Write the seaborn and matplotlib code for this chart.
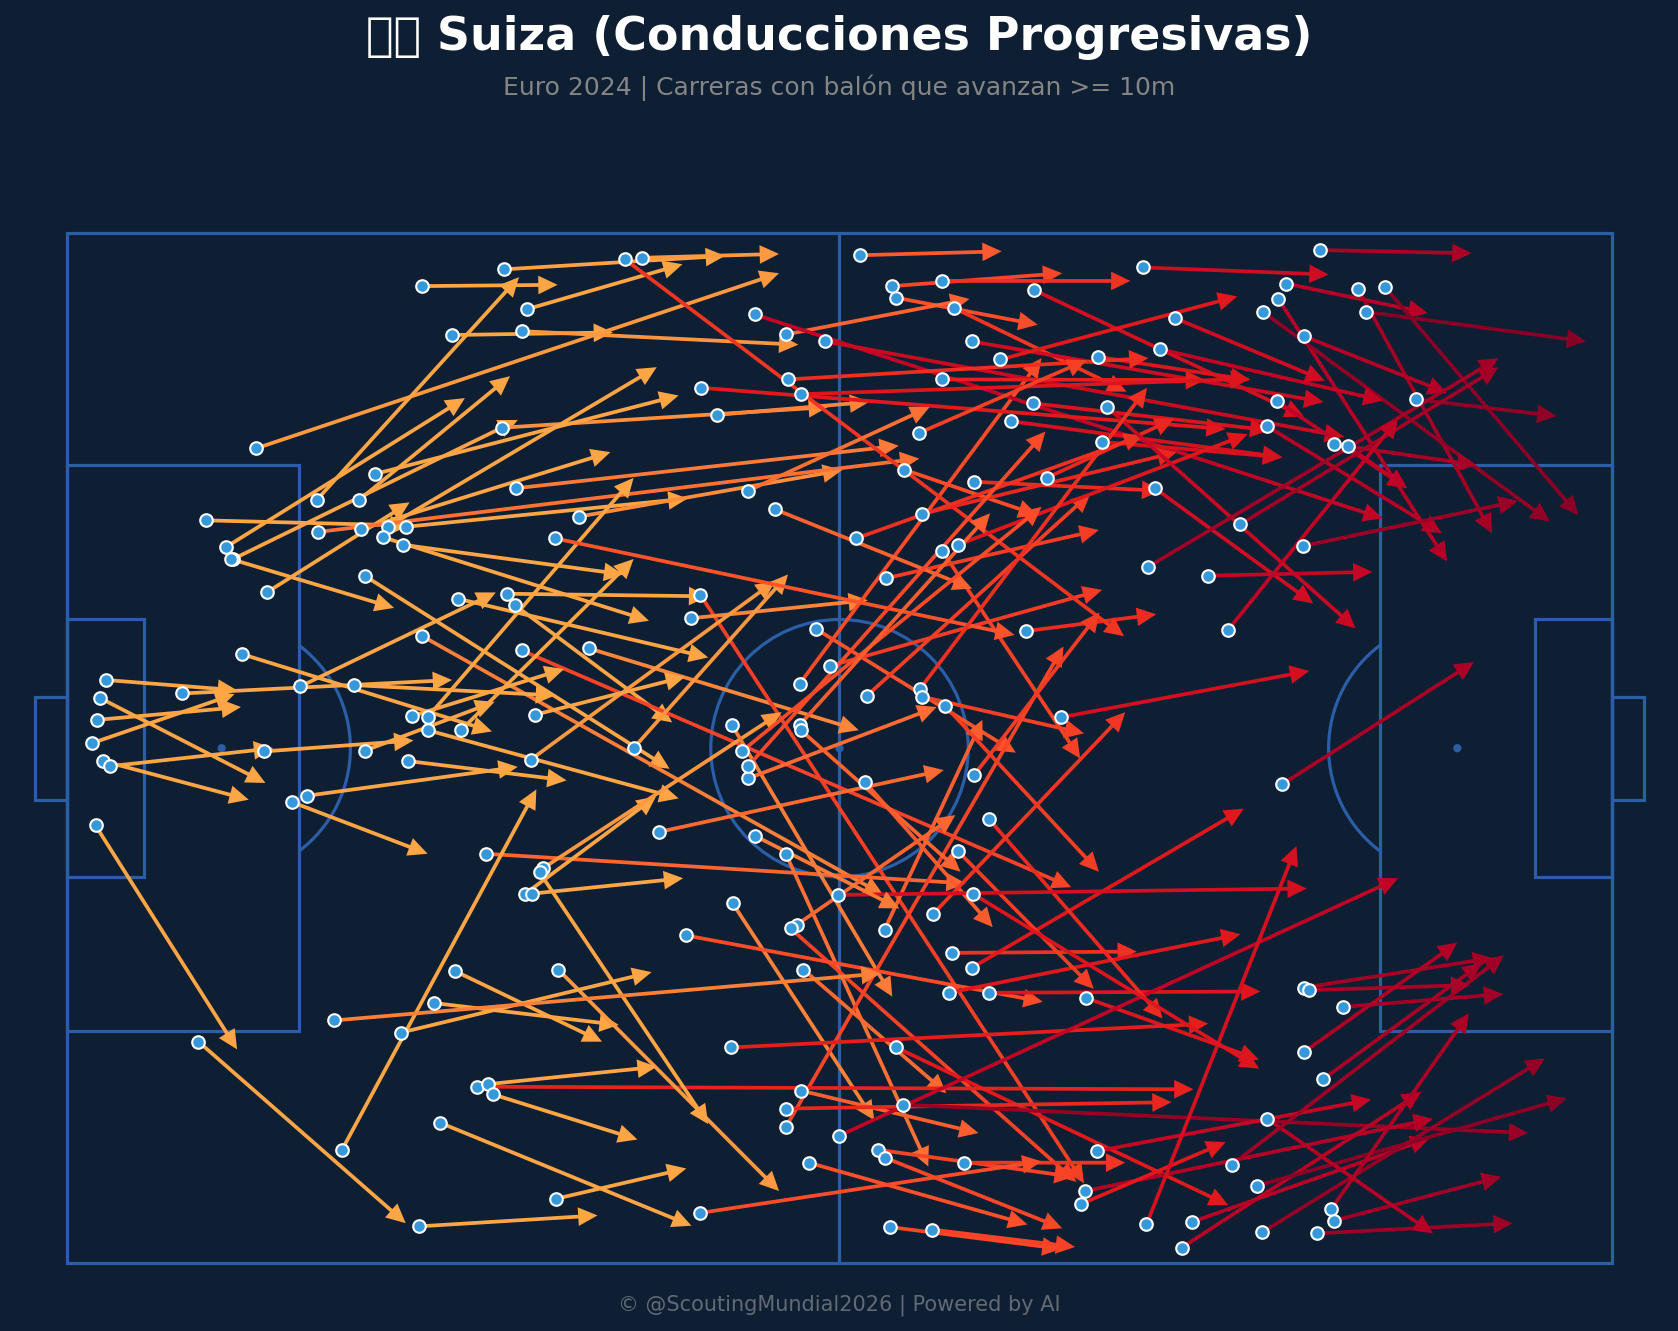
import matplotlib
matplotlib.use("Agg")
import matplotlib.pyplot as plt
from matplotlib.patches import Rectangle, Circle, Arc
import numpy as np
import pandas as pd
import seaborn as sns
import warnings, logging

warnings.filterwarnings("ignore")
logging.getLogger("matplotlib.font_manager").setLevel(logging.ERROR)

TITLE = "\U0001F1E8\U0001F1ED Suiza (Conducciones Progresivas)"
SUBTITLE = "Euro 2024 | Carreras con balón que avanzan >= 10m"
FOOTER = "© @ScoutingMundial2026 | Powered by AI"

# Progressive carries on a 120 x 80 pitch: where each one starts and ends
start_x = [
    27.6, 33.9, 44.65, 35.7, 29.9, 35.3, 14.7, 19.4, 12.3, 22.7,
    12.9, 33.8, 50.5, 15.5, 24.9, 23.9, 22.8, 26.3, 39.8, 10.8,
    19.5, 34.9, 24.5, 26.1, 12.7, 23.1, 30.4, 34.2, 18.1, 27.6,
    34.8, 28.0, 35.3, 40.55, 49.2, 48.5, 44.0, 36.0, 28.0, 30.6,
    3.0, 8.9, 22.3, 2.3, 1.95, 2.55, 2.8, 3.3, 15.3, 2.2,
    13.6, 18.6, 17.5, 23.1, 26.8, 26.5, 36.35, 32.5, 35.6, 37.0,
    36.1, 46.0, 58.2, 59.3, 56.9, 62.1, 77.2, 74.5, 51.65, 52.9,
    55.85, 51.7, 55.85, 63.5, 56.7, 56.2, 57.2, 48.1, 68.75, 70.3,
    68.5, 71.6, 79.15, 64.4, 51.6, 57.0, 31.85, 55.85, 64.9, 60.0,
    63.0, 63.5, 69.7, 57.6, 49.2, 63.9, 67.2, 79.1, 78.8, 80.0,
    83.85, 87.4, 86.6, 92.4, 92.85, 98.2, 98.45, 97.1, 93.25, 97.6,
    90.5, 96.1, 96.45, 99.15, 96.1, 30.1, 28.5, 38.15, 25.9, 10.2,
    21.35, 28.97, 27.3, 38.0, 32.7, 33.1, 36.7, 20.75, 61.6, 64.1,
    68.0, 64.4, 68.9, 75.1, 55.85, 53.4, 58.9, 70.3, 72.5, 80.1,
    56.0, 68.0, 49.25, 57.0, 75.0, 73.3, 66.2, 43.3, 80.4, 65.0,
    70.45, 76.1, 66.4, 61.3, 69.2, 68.0, 63.6, 55.0, 52.9, 37.9,
    97.3, 83.6, 94.7, 100.3, 102.4, 94.1, 92.9, 100.9, 86.1, 96.1,
    84.9, 94.0, 104.8, 93.25, 80.8, 98.45, 99.5, 84.5, 91.15, 96.0,
    84.0, 88.6, 90.2, 94.4, 66.25, 66.4, 68.2, 52.4, 52.9, 56.9,
    57.0, 62.0, 70.45, 71.6, 69.2, 70.35, 67.3, 59.9, 53.4,
]
start_y = [
    4.1, 2.8, 1.9, 5.9, 7.9, 7.6, 16.7, 20.7, 24.4, 20.7,
    25.3, 15.1, 14.1, 27.9, 22.8, 18.7, 23.0, 22.8, 22.0, 22.3,
    23.2, 19.8, 23.6, 24.2, 25.3, 26.6, 28.4, 28.0, 35.2, 31.3,
    28.9, 38.6, 32.4, 32.25, 28.1, 29.9, 40.0, 40.9, 37.6, 38.6,
    34.7, 35.75, 35.1, 37.8, 39.6, 36.1, 41.0, 41.4, 40.25, 46.0,
    32.7, 43.7, 44.2, 40.2, 37.5, 41.0, 37.4, 48.2, 51.3, 49.3,
    51.3, 46.5, 30.75, 33.6, 35.0, 35.95, 37.6, 30.9, 38.2, 42.35,
    48.25, 52.05, 69.4, 54.1, 53.7, 54.0, 57.2, 54.55, 55.9, 57.05,
    59.0, 59.0, 59.4, 63.25, 63.25, 66.6, 66.3, 68.0, 67.7, 70.1,
    71.2, 71.8, 72.2, 72.2, 76.1, 77.2, 77.4, 74.4, 75.4, 71.3,
    77.0, 76.8, 78.8, 74.0, 77.6, 75.8, 76.7, 77.7, 68.8, 65.7,
    72.35, 58.6, 58.8, 60.1, 63.6, 57.3, 59.8, 57.2, 62.1, 62.8,
    71.2, 69.1, 77.15, 75.0, 66.1, 66.9, 49.65, 61.15, 1.7, 4.1,
    3.7, 5.0, 5.8, 4.4, 7.85, 6.3, 8.4, 8.4, 9.8, 9.6,
    11.35, 11.35, 12.0, 12.5, 13.2, 14.6, 15.5, 2.0, 16.2, 18.35,
    19.3, 19.0, 21.8, 23.7, 24.2, 24.7, 26.8, 21.45, 20.0, 23.7,
    1.3, 2.65, 3.9, 4.35, 4.2, 5.1, 6.1, 6.1, 6.6, 8.0,
    9.0, 13.05, 12.9, 15.0, 13.5, 16.4, 16.55, 19.8, 22.6, 24.3,
    25.9, 26.6, 30.8, 42.8, 35.4, 36.0, 36.7, 40.25, 41.4, 38.2,
    38.6, 42.65, 42.1, 45.5, 48.0, 51.3, 52.85, 51.4, 46.8,
]
end_x = [
    38.1, 51.1, 55.3, 47.8, 42.4, 56.8, 55.3, 35.1, 30.9, 34.4,
    35.0, 59.1, 62.3, 26.6, 45.8, 47.5, 42.2, 48.2, 60.2, 26.6,
    66.2, 64.6, 45.2, 43.2, 25.4, 46.8, 49.8, 49.8, 33.3, 63.4,
    47.0, 47.5, 78.0, 61.5, 79.0, 62.2, 56.0, 55.0, 44.0, 44.0,
    13.2, 29.9, 37.9, 13.5, 13.0, 15.4, 14.1, 16.0, 26.9, 13.2,
    33.0, 35.0, 28.0, 33.2, 38.6, 38.8, 48.0, 69.8, 45.75, 55.5,
    47.85, 68.1, 73.7, 80.4, 75.7, 79.5, 96.5, 84.6, 64.1, 67.55,
    66.9, 62.7, 77.4, 71.1, 69.0, 78.4, 68.3, 75.8, 83.1, 91.4,
    91.15, 92.7, 92.6, 90.2, 88.65, 70.8, 87.5, 85.8, 113.5, 103.4,
    78.2, 77.3, 82.2, 74.6, 75.7, 77.25, 78.3, 106.1, 90.0, 101.3,
    95.5, 105.85, 105.2, 116.5, 114.8, 108.9, 111.4, 112.3, 106.1, 109.9,
    111.6, 110.7, 109.0, 111.55, 108.0, 41.55, 42.85, 55.3, 45.4, 26.3,
    36.45, 48.5, 41.2, 48.1, 45.8, 44.3, 49.8, 63.2, 72.6, 77.3,
    82.6, 75.4, 82.3, 96.1, 70.1, 102.2, 99.2, 97.6, 90.9, 91.9,
    84.0, 88.4, 90.0, 91.9, 93.4, 94.4, 79.2, 82.1, 94.4, 75.4,
    85.0, 86.0, 86.2, 83.6, 91.7, 78.7, 80.15, 70.3, 67.0, 73.6,
    109.1, 98.0, 105.7, 110.7, 117.4, 107.2, 115.2, 118.0, 97.7, 107.2,
    102.2, 104.1, 115.7, 106.8, 100.1, 109.5, 104.1, 96.8, 111.2, 112.7,
    111.2, 101.4, 103.4, 109.3, 83.9, 79.0, 80.15, 75.7, 76.0, 71.7,
    69.4, 71.9, 80.2, 85.1, 79.75, 92.6, 82.2, 96.3, 64.65,
]
end_y = [
    4.0, 1.75, 1.6, 2.4, 7.7, 8.65, 3.1, 3.4, 12.8, 11.1,
    14.5, 13.5, 13.1, 20.9, 10.4, 12.6, 17.0, 20.6, 18.4, 22.7,
    17.5, 16.5, 30.1, 26.5, 29.1, 41.6, 32.95, 28.2, 27.9, 51.4,
    38.0, 43.9, 50.8, 38.6, 73.8, 28.5, 26.5, 27.0, 19.0, 25.3,
    35.5, 34.7, 35.9, 36.8, 35.8, 42.7, 44.0, 40.0, 39.4, 63.4,
    38.7, 41.45, 48.2, 36.4, 33.85, 42.5, 34.45, 50.5, 43.75, 37.2,
    50.1, 41.7, 40.35, 27.7, 9.7, 20.2, 34.0, 29.6, 59.3, 36.8,
    72.5, 68.9, 32.1, 37.8, 45.2, 73.7, 66.8, 59.7, 55.8, 44.7,
    54.45, 58.9, 64.2, 75.5, 61.4, 69.9, 66.5, 67.5, 69.9, 50.1,
    73.3, 77.3, 72.2, 77.0, 72.1, 78.9, 78.75, 68.8, 70.6, 67.3,
    47.6, 70.3, 66.7, 67.2, 64.1, 60.6, 73.3, 76.9, 77.7, 56.7,
    56.1, 56.3, 58.4, 59.1, 55.1, 62.8, 61.5, 74.4, 57.4, 76.9,
    43.2, 77.1, 76.3, 72.65, 64.75, 70.4, 69.2, 57.5, 1.4, 3.1,
    3.7, 7.1, 12.3, 14.25, 5.1, 22.15, 15.8, 13.1, 4.9, 11.4,
    9.7, 11.4, 15.2, 11.3, 15.3, 17.4, 9.85, 31.3, 17.4, 21.9,
    20.0, 14.4, 17.0, 15.7, 15.6, 40.8, 23.05, 27.6, 13.5, 31.2,
    1.55, 3.2, 6.2, 23.3, 21.9, 25.5, 22.4, 8.4, 11.45, 12.4,
    13.0, 19.8, 14.2, 23.3, 30.7, 18.0, 19.8, 28.75, 10.4, 20.8,
    9.7, 26.3, 14.4, 33.3, 12.0, 38.85, 49.6, 21.25, 15.4, 21.75,
    49.6, 53.9, 29.45, 61.0, 58.7, 64.9, 37.2, 50.9, 52.45,
]

BG = "#0e1e33"
LINE = "#2b5ea7"
DOT = "#3498db"

sns.set_theme(style="dark", rc={
    "figure.facecolor": BG, "axes.facecolor": BG, "savefig.facecolor": BG,
    "axes.grid": False,
})

carries = pd.DataFrame({"x": start_x, "y": start_y, "end_x": end_x, "end_y": end_y})

W, H = 1678, 1331
fig = plt.figure(figsize=(W / 100, H / 100), dpi=100)
ax = fig.add_axes([67.2 / W, 1 - 1263.2 / H, 1544.6 / W, 1030 / H])
ax.set_xlim(0, 120)
ax.set_ylim(80, 0)
ax.set_aspect("equal")
ax.axis("off")

# Pitch markings
lw = 2.3
def box(x, y, w, h):
    ax.add_patch(Rectangle((x, y), w, h, fill=False, ec=LINE, lw=lw, clip_on=False, zorder=1))

box(0, 0, 120, 80)
box(0, 18, 18, 44)
box(102, 18, 18, 44)
box(0, 30, 6, 20)
box(114, 30, 6, 20)
box(-2.5, 36, 2.5, 8)
box(120, 36, 2.5, 8)
ax.plot([60, 60], [0, 80], color=LINE, lw=lw, zorder=1)
ax.add_patch(Circle((60, 40), 10, fill=False, ec=LINE, lw=lw, zorder=1))
for sx in (12, 60, 108):
    ax.add_patch(Circle((sx, 40), 0.32, fc=LINE, ec="none", zorder=1))
ax.add_patch(Arc((12, 40), 20, 20, theta1=-53.13, theta2=53.13, ec=LINE, lw=lw, zorder=1))
ax.add_patch(Arc((108, 40), 20, 20, theta1=126.87, theta2=233.13, ec=LINE, lw=lw, zorder=1))

# Carry arrows, coloured by how far up the pitch they finish
cmap = sns.color_palette("YlOrRd", as_cmap=True)
for row in carries.itertuples():
    shade = cmap(np.clip(row.end_x / 120, 0.42, 1.0))
    ax.arrow(row.x, row.y, row.end_x - row.x, row.end_y - row.y,
             width=0.29, head_width=1.45, head_length=1.5,
             length_includes_head=True, fc=shade, ec="none", lw=0, zorder=2)

sns.scatterplot(data=carries, x="x", y="y", ax=ax, s=82, color=DOT,
                edgecolor="white", linewidth=1.5, zorder=3, clip_on=False, legend=False)
ax.set_xlim(0, 120)
ax.set_ylim(80, 0)
ax.axis("off")

fig.text(0.5, 1 - 38 / H, TITLE, ha="center", va="center", color="white",
         fontsize=33, fontweight="bold", family="DejaVu Sans")
fig.text(0.5, 1 - 88 / H, SUBTITLE, ha="center", va="center", color="#858585",
         fontsize=18, family="DejaVu Sans")
fig.text(0.5, 1 - 1305 / H, FOOTER, ha="center", va="center", color="#626a75",
         fontsize=15, family="DejaVu Sans")

fig.savefig("out.png", dpi=100)
